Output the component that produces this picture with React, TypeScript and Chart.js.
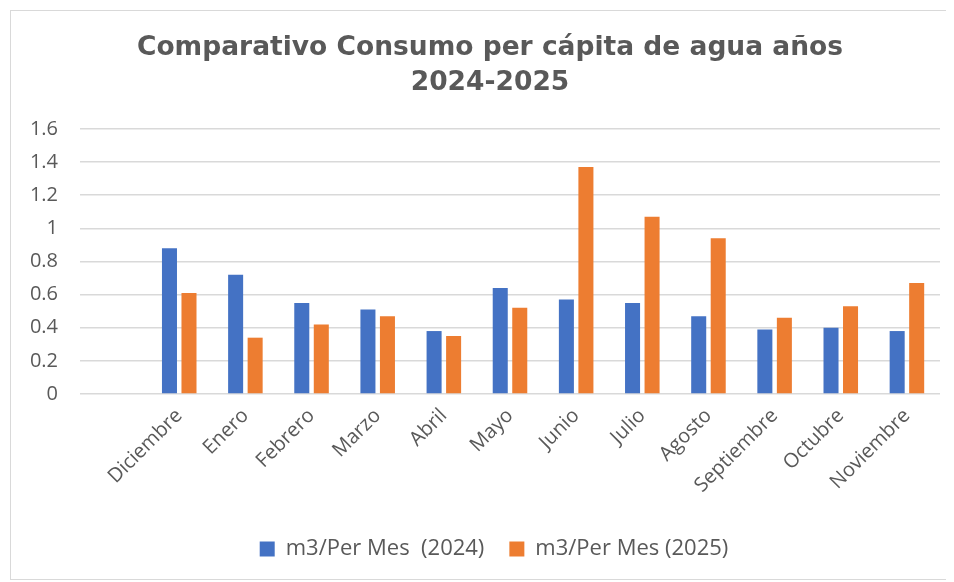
import React, { useEffect, useRef } from "react";
import { Chart, registerables } from "chart.js";

Chart.register(...registerables);

const categories: string[] = ["", "Diciembre", "Enero", "Febrero", "Marzo", "Abril", "Mayo", "Junio", "Julio", "Agosto", "Septiembre", "Octubre", "Noviembre"];
const series2024: (number | null)[] = [null, 0.88, 0.72, 0.55, 0.51, 0.38, 0.64, 0.57, 0.55, 0.47, 0.39, 0.40, 0.38];
const series2025: (number | null)[] = [null, 0.61, 0.34, 0.42, 0.47, 0.35, 0.52, 1.37, 1.07, 0.94, 0.46, 0.53, 0.67];
const label2024 = "m3/Per Mes  (2024)";
const label2025 = "m3/Per Mes (2025)";
const titleLines = ["Comparativo Consumo per cápita de agua años", "2024-2025"];
const yMin = 0;
const yMax = 1.6;
const yStep = 0.2;

const shiftPlugin = {
  id: "shiftBlocks",
  afterLayout(chart: any) {
    if (chart.legend) { chart.legend.left += 13; chart.legend.right += 13; }
    if (chart.titleBlock) { chart.titleBlock.left += 9; chart.titleBlock.right += 9; }
  },
};

export default function App() {
  const ref = useRef<HTMLCanvasElement | null>(null);
  useEffect(() => {
    if (!ref.current) return;
    const textColor = "#595959";
    const tickFont = { family: "'Open Sans', 'Noto Sans', sans-serif", size: 20 };
    const chart = new Chart(ref.current, {
      type: "bar",
      data: {
        labels: categories,
        datasets: [
          { label: label2024, data: series2024, backgroundColor: "#4472C4", borderColor: "#4472C4", borderWidth: 0, categoryPercentage: 0.59, barPercentage: 0.77 },
          { label: label2025, data: series2025, backgroundColor: "#ED7D31", borderColor: "#ED7D31", borderWidth: 0, categoryPercentage: 0.59, barPercentage: 0.77 },
        ],
      },
      options: {
        animation: false,
        responsive: false,
        maintainAspectRatio: false,
        layout: { padding: { left: 11, right: 12, top: 0, bottom: 9 } },
        plugins: {
          title: {
            display: true,
            text: titleLines,
            color: textColor,
            font: { family: "'DejaVu Sans', Verdana, sans-serif", size: 26.5, weight: "bold", lineHeight: 1.32 },
            padding: { top: 20, bottom: 28 },
          },
          legend: {
            display: true,
            position: "bottom",
            labels: {
              color: textColor,
              font: { family: "'Open Sans', 'Noto Sans', sans-serif", size: 22 },
              boxWidth: 15,
              boxHeight: 15,
              padding: 25,
            },
          },
          tooltip: { enabled: false },
        },
        scales: {
          x: {
            grid: { display: false, drawTicks: false },
            border: { display: false },
            ticks: { color: textColor, font: tickFont, minRotation: 45, maxRotation: 45, autoSkip: false, padding: 10 },
            afterFit: (s: any) => { s.height = 119; },
          },
          y: {
            min: yMin,
            max: yMax,
            grid: { color: "#d9d9d9", lineWidth: 1.5, drawTicks: false },
            border: { display: false },
            ticks: {
              stepSize: yStep,
              color: textColor,
              font: tickFont,
              padding: 22,
              callback: (v: any) => String(Math.round(Number(v) * 10) / 10),
            },
            afterFit: (s: any) => { s.width = 58; },
          },
        },
      },
      plugins: [shiftPlugin],
    });
    return () => chart.destroy();
  }, []);
  return (
    <div style={{ marginLeft: 2, marginTop: 2, width: 941, height: 568, border: "1px solid #d9d9d9", background: "#fff" }}>
      <canvas ref={ref} width={941} height={568} style={{ display: "block" }} />
    </div>
  );
}
